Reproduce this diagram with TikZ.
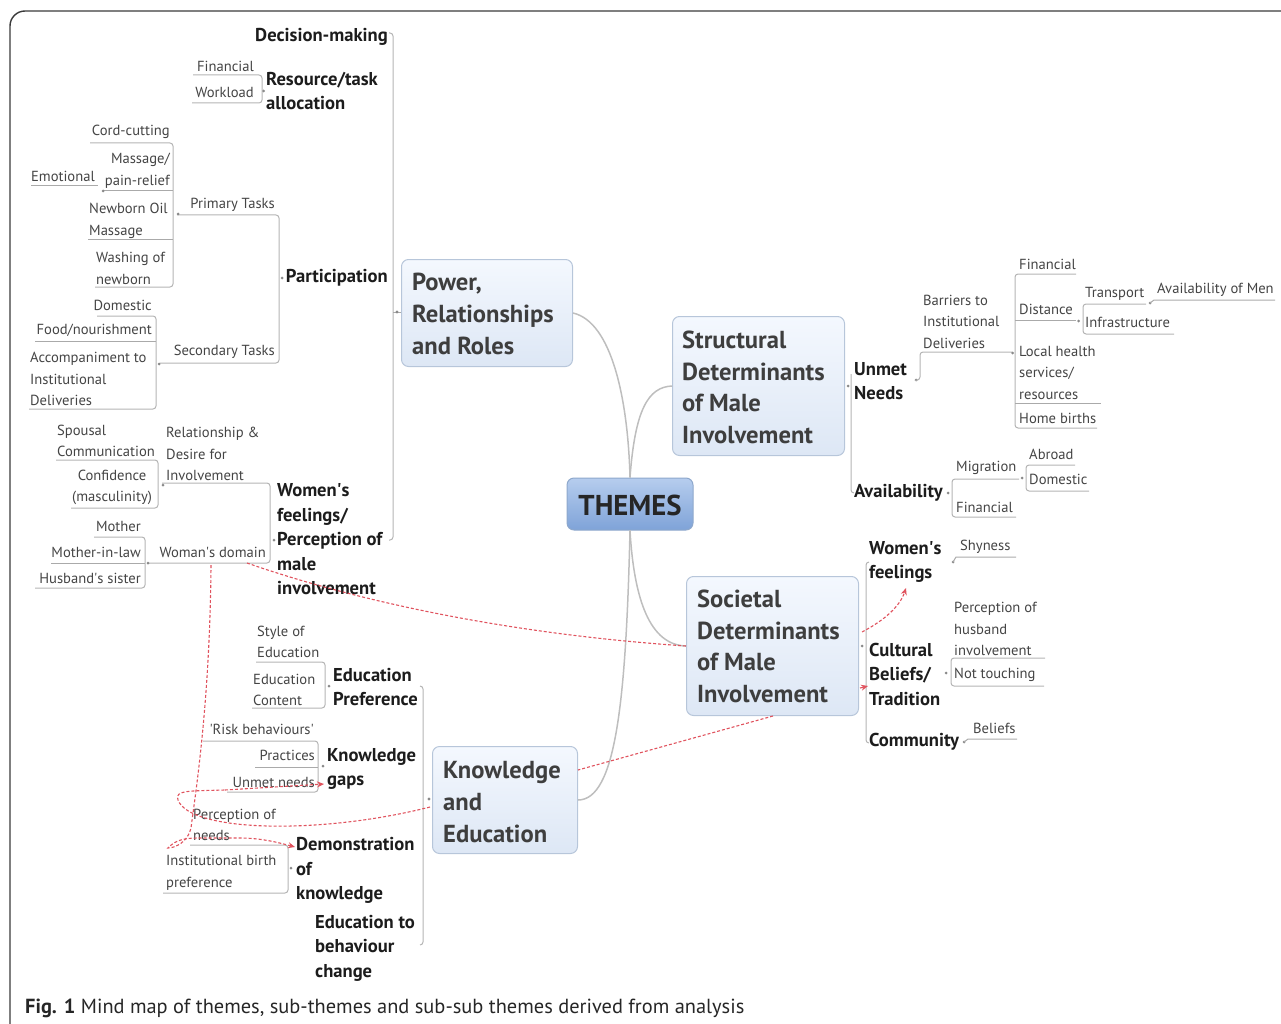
\documentclass[tikz,border=0pt]{standalone}
\usepackage{fontspec}
\setmainfont{PT Sans}
\usetikzlibrary{arrows.meta}
\definecolor{smtxt}{HTML}{444444}
\definecolor{bdtxt}{HTML}{1C1C1C}
\definecolor{thtxtc}{HTML}{3E3E3E}
\definecolor{ulc}{HTML}{AAAAAA}
\definecolor{brc}{HTML}{B4B4B4}
\definecolor{dotc}{HTML}{8A8A8A}
\definecolor{thtop}{HTML}{F4F8FE}
\definecolor{thbot}{HTML}{DDE7F5}
\definecolor{thbd}{HTML}{B7C6DA}
\definecolor{cttop}{HTML}{B6CDEE}
\definecolor{ctbot}{HTML}{7FA3D8}
\definecolor{ctbd}{HTML}{8EA8CC}
\definecolor{rdc}{HTML}{E0535E}
\definecolor{curv}{HTML}{BEBEBE}
\definecolor{framec}{HTML}{3A3A3A}
\newcommand{\mySm}{\fontsize{14.6}{21.5}\selectfont}
\newcommand{\myBd}{\fontsize{18.6}{24.5}\selectfont\bfseries}
\newcommand{\myTh}{\fontsize{24.6}{31.7}\selectfont\bfseries}
\newcommand{\myCt}{\fontsize{28.7}{30}\selectfont\bfseries}
\newcommand{\myCap}{\fontsize{20.4}{22}\selectfont}
\newcommand{\sq}{\textquotesingle}
\tikzset{
  sm/.style={font=\mySm, text=smtxt, inner sep=0pt},
  bd/.style={font=\myBd, text=bdtxt, inner sep=0pt},
  thtxt/.style={font=\myTh, text=thtxtc, inner sep=0pt, align=left},
  thbox/.style={draw=thbd, line width=1pt, rounded corners=7pt, top color=thtop, bottom color=thbot, inner sep=0pt},
  ctbox/.style={draw=ctbd, line width=1pt, rounded corners=7pt, top color=cttop, bottom color=ctbot, inner sep=0pt},
  ul/.style={draw=ulc, line width=1pt},
  br/.style={draw=brc, line width=1pt, rounded corners=3pt},
  curve/.style={draw=curv, line width=1.5pt},
  rel/.style={draw=rdc, line width=1.1pt, dash pattern=on 3pt off 2pt},
  relarrow/.style={rel, -{Stealth[length=7pt,width=6pt]}}
}
\begin{document}
\begin{tikzpicture}[x=1pt,y=-1pt]
\useasboundingbox (0,0) rectangle (1281,1024);
% frame
\draw[framec, line width=1.4pt, rounded corners=15pt] (10,1040) -- (10,11) -- (1300,11);
% caption
\node[anchor=base west, font=\myCap, text=black!85, inner sep=0pt] (cap) at (25,1013) {\textbf{Fig. 1} Mind map of themes, sub-themes and sub-sub themes derived from analysis};

% ===== central and theme boxes =====
\node[ctbox, minimum width=126pt, minimum height=52pt] (themes) at (630,504) {};
\node[font=\myCt, text=black!85, inner sep=0pt] (themest) at (630,505) {THEMES};

\node[thbox, minimum width=171pt, minimum height=107pt, anchor=north west] (power) at (401,259) {};
\node[thtxt, anchor=west] (powert) at (412,314) {Power,\\Relationships\\and Roles};

\node[thbox, minimum width=172pt, minimum height=139pt, anchor=north west] (struct) at (672,316) {};
\node[thtxt, anchor=west] (structt) at (682,387.5) {Structural\\Determinants\\of Male\\Involvement};

\node[thbox, minimum width=172pt, minimum height=139pt, anchor=north west] (soc) at (686,576) {};
\node[thtxt, anchor=west] (soct) at (697,646.5) {Societal\\Determinants\\of Male\\Involvement};

\node[thbox, minimum width=145pt, minimum height=107pt, anchor=north west] (know) at (432,746) {};
\node[thtxt, anchor=west] (knowt) at (443,802) {Knowledge\\and\\Education};

% theme curves
\draw[curve] (power.east) .. controls (612,322) and (628,400) .. (themes.north);
\draw[curve] (themes.north) .. controls (635,410) and (648,387) .. (struct.west);
\draw[curve] (themes.south) .. controls (634,600) and (650,645) .. (soc.west);
\draw[curve] (themes.south) .. controls (626,700) and (616,800) .. (know.east);

% ===== Power branch =====
\draw[br] (389,33) -- (393,33) -- (393,540) -- (389,540);
\draw[ul] (393,312) -- (401,312);
\fill[dotc] (397,312) circle (1.6);
\node[bd, anchor=east] (dm) at (388,37) {Decision-making};
\node[bd, anchor=west, align=left] (rta) at (266,91) {Resource/task\\allocation};
\node[sm, anchor=east] (fin1) at (254,66) {Financial};
\node[sm, anchor=east] (work) at (254,92) {Workload};
\draw[br] (193,75) -- (262,75) -- (262,103) -- (192,103);
\fill[dotc] (263.5,91) circle (1.5);

\node[bd, anchor=east] (part) at (388,278) {Participation};
\fill[dotc] (282,278) circle (1.5);
\draw[br] (177,215) -- (279,215) -- (279,363) -- (160,363);
\node[sm, anchor=east] (prim) at (275,205) {Primary Tasks};
\node[sm, anchor=east] (sec) at (275,352) {Secondary Tasks};
\fill[dotc] (178,214) circle (1.5);
\draw[br] (90,143) -- (173,143) -- (173,287) -- (95,287);
\draw[ul] (104,191) -- (173,191);
\draw[ul] (88,240) -- (173,240);
\node[sm, anchor=east] (cord) at (170,132) {Cord-cutting};
\node[sm, anchor=east, align=right] (mass) at (170,171) {Massage/\\pain-relief};
\node[sm, anchor=east] (emo) at (95,176) {Emotional};
\draw[ul] (31,186) -- (98,186);
\fill[dotc] (103,191) circle (1.5);
\node[sm, anchor=west, align=left] (oil) at (89,221) {Newborn Oil\\Massage};
\node[sm, anchor=west, align=left] (wash) at (96,268.5) {Washing of\\newborn};
\fill[dotc] (159,364) circle (1.5);
\draw[br] (97,316) -- (156,316) -- (156,409) -- (29,409);
\draw[ul] (35,341) -- (156,341);
\node[sm, anchor=east] (dom1) at (152,305) {Domestic};
\node[sm, anchor=east] (food) at (152,330) {Food/nourishment};
\node[sm, anchor=west, align=left] (acc) at (30,379) {Accompaniment to\\Institutional\\Deliveries};

\node[bd, anchor=west, align=left] (wf) at (277,539.5) {Women\sq s\\feelings/\\Perception of\\male\\involvement};
\fill[dotc] (274,540) circle (1.5);
\draw[br] (162,483) -- (270,483) -- (270,563) -- (148,563);
\node[sm, anchor=west, align=left] (rel) at (166,454) {Relationship \&\\Desire for\\Involvement};
\fill[dotc] (163,485) circle (1.5);
\draw[br] (56,460) -- (158,460) -- (158,508) -- (71,508);
\node[sm, anchor=west, align=left] (spou) at (57,441) {Spousal\\Communication};
\node[sm, anchor=west, align=center] (conf) at (72,487.5) {Confidence\\(masculinity)};
\node[sm, anchor=east] (wdom) at (266,552) {Woman\sq s domain};
\fill[dotc] (148,563) circle (1.5);
\draw[br] (94,537) -- (145,537) -- (145,588) -- (35,588);
\draw[ul] (51,563) -- (145,563);
\node[sm, anchor=east] (moth) at (141,526) {Mother};
\node[sm, anchor=east] (mil) at (141,552) {Mother-in-law};
\node[sm, anchor=east] (hs) at (141,578) {Husband\sq s sister};

% ===== Structural branch =====
\fill[dotc] (848,386) circle (1.5);
\draw[br] (851,374) -- (851,493) -- (854,493);
\node[bd, anchor=west, align=left] (unmet) at (854,381) {Unmet\\Needs};
\fill[dotc] (916,380) circle (1.5);
\draw[br] (918,380) -- (920,380) -- (920,352) -- (1012,352);
\node[sm, anchor=west, align=left] (barr) at (923,321.5) {Barriers to\\Institutional\\Deliveries};
\fill[dotc] (1012.5,353) circle (1.5);
\draw[br] (1076,274) -- (1015,274) -- (1015,428) -- (1097,428);
\draw[ul] (1015,320) -- (1076,320);
\draw[ul] (1015,403) -- (1101,403);
\node[sm, anchor=west] (fin2) at (1019,264) {Financial};
\node[sm, anchor=west] (dist) at (1019,309) {Distance};
\fill[dotc] (1078.5,321) circle (1.5);
\draw[br] (1146,304) -- (1083,304) -- (1083,334) -- (1174,334);
\node[sm, anchor=west] (trans) at (1085,294) {Transport};
\fill[dotc] (1150,303) circle (1.5);
\draw[ul] (1150,303) -- (1154,300) -- (1275,300);
\node[sm, anchor=west] (avm) at (1157,290) {Availability of Men};
\node[sm, anchor=west] (infra) at (1085,322) {Infrastructure};
\node[sm, anchor=west, align=left] (local) at (1019,372.5) {Local health\\services/\\resources};
\node[sm, anchor=west] (home) at (1019,418) {Home births};

\node[bd, anchor=west] (avail) at (854,493) {Availability};
\fill[dotc] (948,493) circle (1.5);
\draw[br] (1019,479) -- (952,479) -- (952,517) -- (1016,517);
\node[sm, anchor=west] (mig) at (956,468) {Migration};
\node[sm, anchor=west] (fin3) at (956,507) {Financial};
\fill[dotc] (1022,478) circle (1.5);
\draw[br] (1075,465) -- (1026,465) -- (1026,491) -- (1089,491);
\node[sm, anchor=west] (abr) at (1029,454) {Abroad};
\node[sm, anchor=west] (dom2) at (1029,479) {Domestic};

% ===== Societal branch =====
\fill[dotc] (862,646) circle (1.5);
\draw[br] (869,562) -- (866,562) -- (866,743) -- (869,743);
\node[bd, anchor=west, align=left] (wfe) at (869,562) {Women\sq s\\feelings};
\fill[dotc] (953,562) circle (1.5);
\draw[ul] (953,562) -- (956,557) -- (1016,557);
\node[sm, anchor=west] (shy) at (960,547) {Shyness};
\node[bd, anchor=west, align=left] (cult) at (869,674) {Cultural\\Beliefs/\\Tradition};
\fill[dotc] (946,673) circle (1.5);
\draw[br] (1045,658) -- (951,658) -- (951,686) -- (1044,686);
\node[sm, anchor=west, align=left] (perch) at (954,629) {Perception of\\husband\\involvement};
\node[sm, anchor=west] (nott) at (954,675) {Not touching};
\node[bd, anchor=west] (comm) at (869,742) {Community};
\fill[dotc] (964,742) circle (1.5);
\draw[ul] (964,742) -- (968,739) -- (1017,739);
\node[sm, anchor=west] (beli) at (973,728) {Beliefs};

% ===== Knowledge branch =====
\fill[dotc] (429,799) circle (1.6);
\draw[br] (420,686) -- (423,686) -- (423,945) -- (420,945);
\node[bd, anchor=west, align=left] (edp) at (333,687) {Education\\Preference};
\fill[dotc] (329,686) circle (1.5);
\draw[br] (256,662) -- (325,662) -- (325,708) -- (252,708);
\node[sm, anchor=west, align=left] (style) at (257,642) {Style of\\Education};
\node[sm, anchor=west, align=left] (econt) at (253,690) {Education\\Content};
\node[bd, anchor=west, align=left] (kg) at (327,769) {Knowledge\\gaps};
\fill[dotc] (323,766) circle (1.5);
\draw[br] (203,741) -- (318,741) -- (318,792) -- (227,792);
\draw[ul] (255,767) -- (318,767);
\node[sm, anchor=east] (risk) at (314,729) {\sq Risk behaviours\sq};
\node[sm, anchor=east] (prac) at (315,755) {Practices};
\node[sm, anchor=east] (unn) at (315,782) {Unmet needs};
\node[bd, anchor=west, align=left] (demo) at (296,870.5) {Demonstration\\of\\knowledge};
\fill[dotc] (291,868) circle (1.5);
\draw[br] (190,845) -- (288,845) -- (288,893) -- (163,893);
\node[sm, anchor=west, align=left] (pneed) at (193,825) {Perception of\\needs};
\node[sm, anchor=west, align=left] (ibp) at (166,873) {Institutional birth\\preference};
\node[bd, anchor=west, align=left] (ebc) at (315,948) {Education to\\behaviour\\change};

% ===== relationships (red dashed) =====
\coordinate (r1s) at (862,632);
\draw[relarrow] (r1s) .. controls (885,620) and (900,606) .. (906,588);
\coordinate (r2s) at (860,688);
\draw[relarrow] (r2s) -- (868,686);
\coordinate (r3s) at (773,716);
\draw[rel] (r3s) -- (578,770);
\coordinate (r4s) at (247,563);
\draw[rel] (r4s) .. controls (330,592) and (480,632) .. (soc.west);
\coordinate (r5s) at (430,807);
\draw[rel] (r5s) .. controls (320,835) and (190,832) .. (178,800) .. controls (174,790) and (190,791) .. (225,790);
\draw[relarrow] (225,790) -- (324,784);
\coordinate (r6s) at (211,565);
\draw[relarrow] (r6s) .. controls (210,700) and (196,790) .. (191,828) .. controls (188,842) and (175,848) .. (168,848) .. controls (175,840) and (185,838) .. (198,838) -- (240,838) .. controls (262,838) and (280,843) .. (295,847);
\end{tikzpicture}
\end{document}
